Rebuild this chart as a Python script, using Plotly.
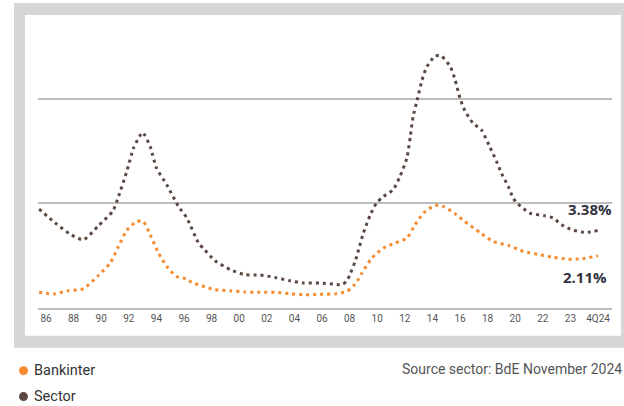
import numpy as np
import plotly.graph_objects as go

# ---- tick labels (evenly spaced in the original chart) ----
tick_labels = ["86", "88", "90", "92", "94", "96", "98", "00", "02", "04", "06",
               "08", "10", "12", "14", "16", "18", "20", "22", "23", "4Q24"]
tick_years = [1986, 1988, 1990, 1992, 1994, 1996, 1998, 2000, 2002, 2004, 2006,
              2008, 2010, 2012, 2014, 2016, 2018, 2020, 2022, 2023, 2024.75]

# ---- series (NPL ratio, %) ----
sector_years = [1985.5, 1986.65, 1987.7, 1988.7, 1989.8, 1990.85, 1991.25, 1991.85, 1992.35, 1993.0,
                1993.55, 1994.0, 1994.75, 1995.6, 1996.2, 1997.05, 1997.5, 1998.25, 1999.35, 2000.4,
                2001.5, 2002.6, 2003.7, 2004.65, 2005.85, 2006.8, 2007.45, 2007.8, 2008.05, 2008.4,
                2008.65, 2009.0, 2009.5, 2009.95, 2010.45, 2011.15, 2011.65, 2012.15, 2012.4, 2012.6,
                2012.9, 2013.25, 2013.6, 2014.2, 2014.65, 2015.3, 2015.65, 2016.0, 2016.35, 2016.95,
                2017.55, 2018.15, 2018.65, 2019.0, 2019.5, 2019.85, 2020.2, 2021.05, 2022.08, 2022.38,
                2022.68, 2023.0, 2023.72, 2024.24, 2024.75]
sector_values = [4.46, 3.77, 3.22, 2.91, 3.62, 4.37, 5.08, 6.35, 7.54, 8.31,
                 7.60, 6.53, 5.68, 4.59, 4.02, 2.76, 2.41, 1.86, 1.41, 1.16,
                 1.14, 1.02, 0.85, 0.74, 0.74, 0.69, 0.65, 0.85, 1.21, 1.82,
                 2.41, 3.25, 4.17, 4.76, 5.09, 5.43, 6.10, 7.02, 8.11, 9.11,
                 9.95, 10.95, 11.62, 12.16, 12.16, 11.62, 10.95, 10.04, 9.41, 8.78,
                 8.44, 7.60, 6.85, 6.27, 5.59, 5.01, 4.72, 4.26, 4.12, 4.01,
                 3.67, 3.45, 3.30, 3.30, 3.38]

bankinter_years = [1985.5, 1986.55, 1987.6, 1988.7, 1989.8, 1990.65, 1991.25, 1991.85, 1992.55, 1993.05,
                   1993.55, 1994.15, 1994.75, 1995.45, 1996.2, 1996.55, 1997.3, 1998.25, 1999.35, 2000.4,
                   2001.5, 2002.6, 2003.7, 2004.65, 2005.85, 2007.05, 2007.8, 2008.25, 2008.65, 2008.9,
                   2009.6, 2010.45, 2011.3, 2012.15, 2012.75, 2013.35, 2014.2, 2014.8, 2015.65, 2016.35,
                   2017.45, 2018.4, 2019.6, 2020.6, 2021.67, 2022.38, 2022.92, 2023.72, 2024.75]
bankinter_values = [0.27, 0.19, 0.35, 0.45, 1.12, 1.74, 2.58, 3.38, 3.83, 3.83,
                    3.17, 2.25, 1.57, 1.07, 0.94, 0.77, 0.60, 0.40, 0.35, 0.29,
                    0.27, 0.27, 0.20, 0.15, 0.17, 0.20, 0.32, 0.57, 0.94, 1.24,
                    1.99, 2.50, 2.75, 3.00, 3.67, 4.26, 4.64, 4.59, 4.22, 3.83,
                    3.28, 2.83, 2.61, 2.33, 2.18, 2.03, 1.94, 1.96, 2.11]

end_labels = ["3.38%", "2.11%"]
legend_names = ["Bankinter", "Sector"]
source_text = "Source sector: BdE November 2024"

ORANGE = "#f58a2e"
BROWN = "#5b4840"
GRID = "#bdbdbd"

# axis positions: labels are evenly spaced, so map years onto label slots
anchor_years = [1984] + tick_years
anchor_pos = [-1] + list(range(len(tick_years)))


def to_axis(years):
    return np.interp(years, anchor_years, anchor_pos)


fig = go.Figure()
fig.add_trace(go.Scatter(
    x=to_axis(sector_years), y=sector_values, mode="lines", name=legend_names[1],
    line=dict(color=BROWN, width=3, dash="3px,4px", shape="spline", smoothing=0.6),
    showlegend=False, hoverinfo="skip"))
fig.add_trace(go.Scatter(
    x=to_axis(bankinter_years), y=bankinter_values, mode="lines", name=legend_names[0],
    line=dict(color=ORANGE, width=3, dash="3px,4px", shape="spline", smoothing=0.6),
    showlegend=False, hoverinfo="skip"))

# layout geometry (pixels)
W, H = 624, 406
L, R = 38, 612
T, B = 40, 308.3
pw, ph = R - L, B - T


def px_x(px):
    return (px - L) / pw


def px_y(py):
    return (B - py) / ph


# frame
fig.add_shape(type="rect", xref="paper", yref="paper",
              x0=px_x(14), x1=px_x(640), y0=px_y(348), y1=px_y(3),
              fillcolor="#d5d6d8", line=dict(width=0), layer="below")
fig.add_shape(type="rect", xref="paper", yref="paper",
              x0=px_x(25), x1=px_x(621), y0=px_y(336), y1=px_y(15),
              fillcolor="white", line=dict(width=0), layer="below")

# end labels
fig.add_annotation(x=to_axis(sector_years[-1]), y=sector_values[-1], text="<b>" + end_labels[0] + "</b>",
                   showarrow=False, xanchor="right", yanchor="middle", xshift=16, yshift=22,
                   font=dict(family="Open Sans, sans-serif", size=15, color="#333340"))
fig.add_annotation(x=to_axis(bankinter_years[-1]), y=bankinter_values[-1], text="<b>" + end_labels[1] + "</b>",
                   showarrow=False, xanchor="right", yanchor="middle", xshift=11, yshift=-21,
                   font=dict(family="Open Sans, sans-serif", size=15, color="#333340"))

# custom legend
for name, col, py in [(legend_names[0], ORANGE, 371), (legend_names[1], BROWN, 397)]:
    fig.add_shape(type="circle", xref="paper", yref="paper", xsizemode="pixel", ysizemode="pixel",
                  xanchor=px_x(23.5), yanchor=px_y(py), x0=-4.5, x1=4.5, y0=-4.5, y1=4.5,
                  fillcolor=col, line=dict(width=0))
    fig.add_annotation(xref="paper", yref="paper", x=px_x(32), y=px_y(py), text=name,
                       showarrow=False, xanchor="left", yanchor="middle",
                       font=dict(family="Roboto, sans-serif", size=14.5, color="#333333"))
fig.add_annotation(xref="paper", yref="paper", x=px_x(400), y=px_y(369), text=source_text,
                   showarrow=False, xanchor="left", yanchor="middle",
                   font=dict(family="Roboto, sans-serif", size=14, color="#555555"))

grid_levels = [4.76, 10.0]
fig.update_layout(
    width=W, height=H,
    margin=dict(l=L, r=W - R, t=T, b=H - B),
    paper_bgcolor="white", plot_bgcolor="rgba(0,0,0,0)",
    xaxis=dict(range=[(L - 46) / 27.6, (R - 46) / 27.6], tickmode="array",
               tickvals=list(range(len(tick_labels))), ticktext=tick_labels,
               showgrid=False, zeroline=False, showline=True, linecolor=GRID, linewidth=2,
               ticks="", tickfont=dict(family="Liberation Sans Narrow, Roboto, sans-serif", size=10, color="#555555")),
    yaxis=dict(range=[-0.518, 12.965], tickmode="array", tickvals=grid_levels,
               showticklabels=False, showgrid=True, gridcolor=GRID, gridwidth=2,
               zeroline=False, ticks=""),
)

fig.write_html("out.html", config={"displayModeBar": False},
               post_script="document.body.style.margin='0px';document.body.style.overflow='hidden';")
